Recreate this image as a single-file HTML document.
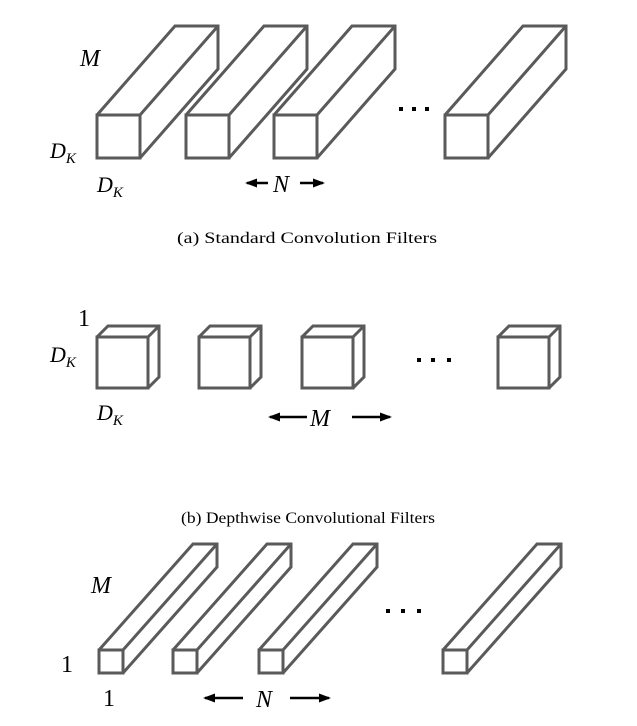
<!DOCTYPE html>
<html><head><meta charset="utf-8"><style>
html,body{margin:0;padding:0;background:#fff;}
svg{display:block;}
.b{fill:none;stroke:#5a5a5a;stroke-width:3;stroke-linejoin:miter;}
.m{font-family:"Liberation Serif",serif;font-style:italic;fill:#000;}
.r{font-family:"Liberation Serif",serif;fill:#000;}
</style></head><body>
<svg width="637" height="726" viewBox="0 0 637 726" xmlns="http://www.w3.org/2000/svg">
<defs><marker id="ah" markerWidth="12" markerHeight="9" refX="10" refY="4.5" orient="auto" markerUnits="userSpaceOnUse"><path d="M0,0 L12,4.5 L0,9 z" fill="#000"/></marker></defs>
<!-- (a) -->
<g class="b">
<polygon points="97,158 97,115 175,26 218,26 218,69 140,158"/><rect x="97" y="115" width="43" height="43"/><line x1="140" y1="115" x2="218" y2="26"/>
<polygon points="186,158 186,115 264,26 307,26 307,69 229,158"/><rect x="186" y="115" width="43" height="43"/><line x1="229" y1="115" x2="307" y2="26"/>
<polygon points="274,158 274,115 352,26 395,26 395,69 317,158"/><rect x="274" y="115" width="43" height="43"/><line x1="317" y1="115" x2="395" y2="26"/>
<polygon points="445,158 445,115 523,26 566,26 566,69 488,158"/><rect x="445" y="115" width="43" height="43"/><line x1="488" y1="115" x2="566" y2="26"/>
</g>
<g fill="#000"><rect x="399" y="107" width="4" height="4"/><rect x="412" y="107" width="4" height="4"/><rect x="425" y="107" width="4" height="4"/></g>
<text class="m" x="80" y="66" font-size="24">M</text>
<text class="m" x="50" y="158" font-size="22">D<tspan font-size="15" dy="5">K</tspan></text>
<text class="m" x="97" y="192" font-size="22">D<tspan font-size="15" dy="5">K</tspan></text>
<line x1="268" y1="183" x2="247" y2="183" stroke="#000" stroke-width="2.5" marker-end="url(#ah)"/>
<text class="m" x="273" y="192" font-size="24">N</text>
<line x1="300" y1="183" x2="323" y2="183" stroke="#000" stroke-width="2.5" marker-end="url(#ah)"/>
<text class="r" x="177" y="243" font-size="15.5" textLength="260" lengthAdjust="spacingAndGlyphs">(a)  Standard Convolution Filters</text>
<!-- (b) -->
<g class="b">
<polygon points="97,388 97,337 108,326 159,326 159,377 148,388"/><rect x="97" y="337" width="51" height="51"/><line x1="148" y1="337" x2="159" y2="326"/>
<polygon points="199,388 199,337 210,326 261,326 261,377 250,388"/><rect x="199" y="337" width="51" height="51"/><line x1="250" y1="337" x2="261" y2="326"/>
<polygon points="302,388 302,337 313,326 364,326 364,377 353,388"/><rect x="302" y="337" width="51" height="51"/><line x1="353" y1="337" x2="364" y2="326"/>
<polygon points="498,388 498,337 509,326 560,326 560,377 549,388"/><rect x="498" y="337" width="51" height="51"/><line x1="549" y1="337" x2="560" y2="326"/>
</g>
<g fill="#000"><rect x="417" y="358" width="4" height="4"/><rect x="431" y="358" width="4" height="4"/><rect x="447" y="358" width="4" height="4"/></g>
<text class="r" x="78" y="326" font-size="24">1</text>
<text class="m" x="50" y="362" font-size="22">D<tspan font-size="15" dy="5">K</tspan></text>
<text class="m" x="97" y="420" font-size="22">D<tspan font-size="15" dy="5">K</tspan></text>
<line x1="307" y1="417" x2="270" y2="417" stroke="#000" stroke-width="2.5" marker-end="url(#ah)"/>
<text class="m" x="310" y="426" font-size="24">M</text>
<line x1="352" y1="417" x2="390" y2="417" stroke="#000" stroke-width="2.5" marker-end="url(#ah)"/>
<text class="r" x="181" y="523" font-size="15.5" textLength="254" lengthAdjust="spacingAndGlyphs">(b)  Depthwise Convolutional Filters</text>
<!-- (c) -->
<g class="b">
<polygon points="99,673 99,650 193,544 217,544 217,567 123,673"/><rect x="99" y="650" width="24" height="23"/><line x1="123" y1="650" x2="217" y2="544"/>
<polygon points="173,673 173,650 267,544 291,544 291,567 197,673"/><rect x="173" y="650" width="24" height="23"/><line x1="197" y1="650" x2="291" y2="544"/>
<polygon points="259,673 259,650 353,544 377,544 377,567 283,673"/><rect x="259" y="650" width="24" height="23"/><line x1="283" y1="650" x2="377" y2="544"/>
<polygon points="443,673 443,650 537,544 561,544 561,567 467,673"/><rect x="443" y="650" width="24" height="23"/><line x1="467" y1="650" x2="561" y2="544"/>
</g>
<g fill="#000"><rect x="386" y="609" width="4" height="4"/><rect x="401" y="609" width="4" height="4"/><rect x="417" y="609" width="4" height="4"/></g>
<text class="m" x="91" y="593" font-size="24">M</text>
<text class="r" x="61" y="672" font-size="24">1</text>
<text class="r" x="103" y="706" font-size="24">1</text>
<line x1="243" y1="698" x2="205" y2="698" stroke="#000" stroke-width="2.5" marker-end="url(#ah)"/>
<text class="m" x="256" y="707" font-size="24">N</text>
<line x1="290" y1="698" x2="329" y2="698" stroke="#000" stroke-width="2.5" marker-end="url(#ah)"/>
</svg>
</body></html>
